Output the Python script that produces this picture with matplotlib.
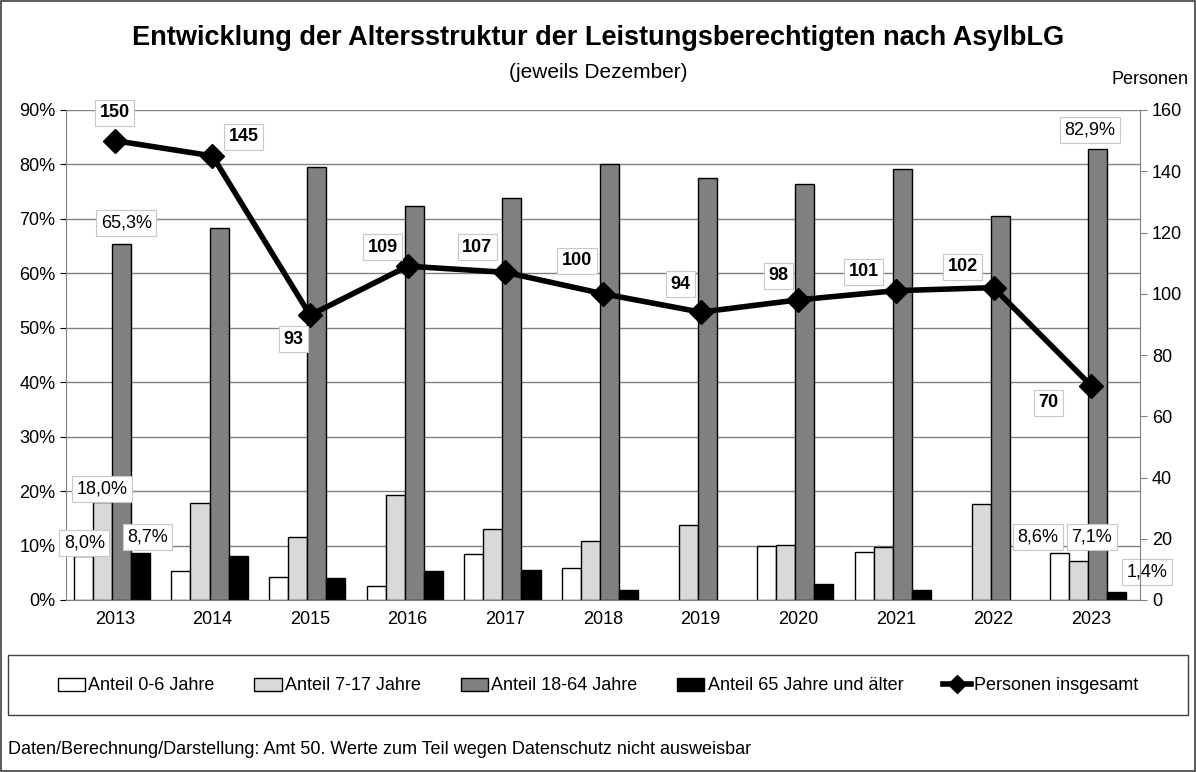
import numpy as np
import matplotlib.pyplot as plt
from matplotlib.patches import Rectangle
from matplotlib.lines import Line2D
from matplotlib.ticker import FuncFormatter

plt.rcParams['font.family'] = ['Liberation Sans', 'DejaVu Sans']

jahre = ['2013', '2014', '2015', '2016', '2017', '2018', '2019', '2020', '2021', '2022', '2023']
anteil_0_6 = [8.0, 5.4, 4.2, 2.6, 8.4, 5.9, np.nan, 10.0, 8.8, np.nan, 8.6]
anteil_7_17 = [18.0, 17.8, 11.6, 19.2, 13.0, 10.9, 13.8, 10.1, 9.8, 17.6, 7.1]
anteil_18_64 = [65.3, 68.3, 79.5, 72.3, 73.8, 80.0, 77.6, 76.5, 79.1, 70.5, 82.9]
anteil_65 = [8.7, 8.1, 4.1, 5.4, 5.6, 1.9, np.nan, 2.9, 1.9, np.nan, 1.4]
personen = [150, 145, 93, 109, 107, 100, 94, 98, 101, 102, 70]

# Versatz der Beschriftungen (Pixel)
pers_offset = [(0, 28), (31, 19), (-17, -24), (-25, 19), (-28, 25), (-26, 33),
               (-20, 28), (-20, 24), (-32, 19), (-31, 21), (-43, -17)]

fig = plt.figure(figsize=(11.96, 7.72), dpi=100)
ax = fig.add_axes([66/1196, 1-600/772, (1140-66)/1196, 490/772])
ax2 = ax.twinx()

x = np.arange(len(jahre))
w = 0.195
serien = [anteil_0_6, anteil_7_17, anteil_18_64, anteil_65]
farben = ['white', '#d9d9d9', '#808080', 'black']
namen = ['Anteil 0-6 Jahre', 'Anteil 7-17 Jahre', 'Anteil 18-64 Jahre', 'Anteil 65 Jahre und älter']
for k, (vals, col) in enumerate(zip(serien, farben)):
    ax.bar(x + (k - 1.5) * w - 0.03, np.array(vals) / 100, width=w, color=col,
           edgecolor='black', linewidth=1.0, zorder=2)

ax.set_ylim(0, 0.9)
ax.set_xlim(-0.5, len(jahre) - 0.5)
ax.set_yticks(np.arange(0, 0.91, 0.1))
ax.yaxis.set_major_formatter(FuncFormatter(lambda v, p: f'{v*100:.0f}%'))
ax.set_xticks(x)
ax.set_xticklabels(jahre)
ax.grid(axis='y', color='#808080', linewidth=1.0, zorder=0)
ax.set_axisbelow(True)
ax.tick_params(axis='both', labelsize=13, length=4)
ax.tick_params(axis='x', length=0, pad=8)
for s in ['top', 'right']:
    ax.spines[s].set_visible(False)
ax.spines['left'].set_color('#808080')
ax.spines['bottom'].set_color('#808080')

ax2.plot(x, personen, color='black', linewidth=4, marker='D', markersize=12, zorder=5)
ax2.set_ylim(0, 160)
ax2.set_yticks(np.arange(0, 161, 20))
ax2.tick_params(axis='y', labelsize=13, length=5, color='#808080')
for s in ['top', 'left', 'bottom']:
    ax2.spines[s].set_visible(False)
ax2.spines['right'].set_color('#808080')

box = dict(boxstyle='square,pad=0.25', facecolor='white', edgecolor='#c8c8c8', linewidth=0.8)
for xi, p, (dx, dy) in zip(x, personen, pers_offset):
    ax2.annotate(str(p), (xi, p), xytext=(dx * 0.72, dy * 0.72), textcoords='offset points',
                 ha='center', va='center', fontsize=13, fontweight='bold', bbox=box, zorder=6)

# Prozentbeschriftungen: (serie, jahr-index, versatz)
pct_labels = [(2, 0, (5, 21)), (1, 0, (0, 13)), (0, 0, (1, 13)), (3, 0, (7, 16)),
              (2, 10, (-8, 19)), (0, 10, (-22, 16)), (1, 10, (13, 24)), (3, 10, (30, 20))]
for k, i, (dx, dy) in pct_labels:
    v = serien[k][i]
    xb = x[i] + (k - 1.5) * w - 0.03
    ax.annotate(f'{v:.1f}%'.replace('.', ','), (xb, v / 100), xytext=(dx * 0.72, dy * 0.72),
                textcoords='offset points', ha='center', va='center', fontsize=13,
                bbox=box, zorder=6)

fig.text(0.5, 1 - 38/772, 'Entwicklung der Altersstruktur der Leistungsberechtigten nach AsylbLG',
         ha='center', va='center', fontsize=19.5, fontweight='bold')
fig.text(0.5, 1 - 72/772, '(jeweils Dezember)', ha='center', va='center', fontsize=15)
fig.text(1150/1196, 1 - 80/772, 'Personen', ha='center', va='center', fontsize=13)

# Legende
fig.patches.append(Rectangle((8/1196, 1 - 715/772), 1180/1196, 60/772, transform=fig.transFigure,
                             facecolor='white', edgecolor='#404040', linewidth=1.0))
handles = [Rectangle((0, 0), 1, 1, facecolor=c, edgecolor='black', linewidth=1.0) for c in farben]
handles.append(Line2D([], [], color='black', linewidth=4, marker='D', markersize=9))
fig.legend(handles, namen + ['Personen insgesamt'], loc='center', ncol=5,
           bbox_to_anchor=(0.5, 1 - 686/772), frameon=False, fontsize=13,
           handlelength=1.5, handletextpad=0.2, columnspacing=2.2)

fig.text(8/1196, 1 - 750/772, 'Daten/Berechnung/Darstellung: Amt 50. Werte zum Teil wegen Datenschutz nicht ausweisbar',
         ha='left', va='center', fontsize=13)

fig.patches.append(Rectangle((0.001, 0.001), 0.998, 0.998, transform=fig.transFigure,
                             facecolor='none', edgecolor='#404040', linewidth=1.2))

fig.savefig('out.png', dpi=100)
